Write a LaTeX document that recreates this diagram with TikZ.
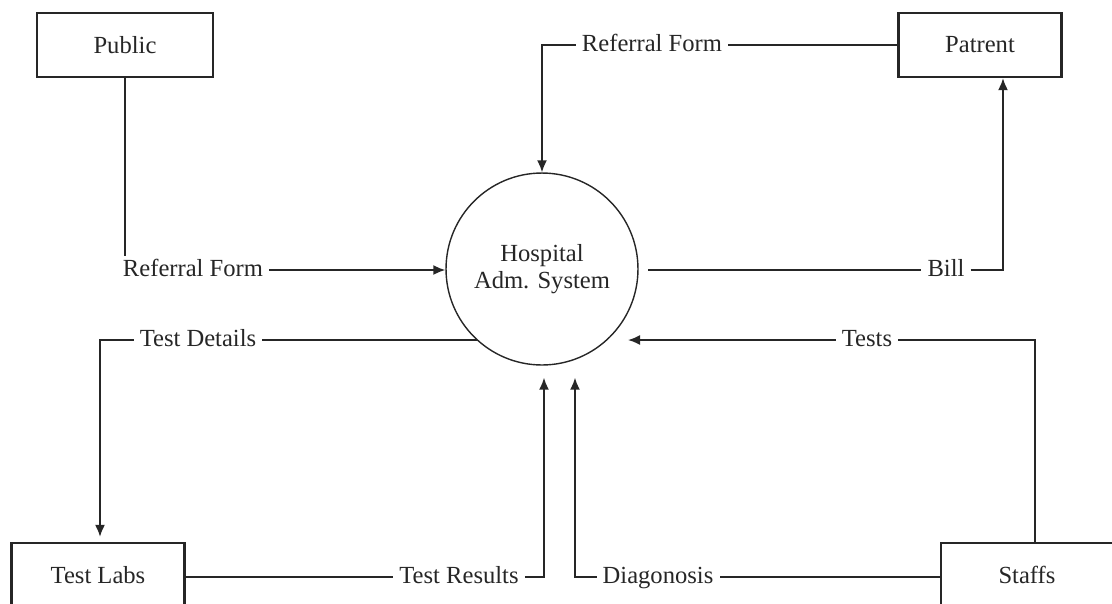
\documentclass[tikz,border=0pt]{standalone}
\usepackage{fontspec}
\setmainfont{Liberation Serif}
\usetikzlibrary{arrows.meta}

\begin{document}
\begin{tikzpicture}[x=0.02cm, y=-0.02cm, color=black!85, line width=1pt,
    font=\fontsize{14}{15.5}\selectfont,
    entity/.style = {draw, line width=1.3pt, minimum height=1.28cm},
    proc/.style = {draw, circle, line width=0.8pt, minimum size=3.84cm, align=center},
    lbl/.style = {inner sep=3pt, text height=1.7ex, text depth=0.2ex},
    >={Latex[length=2.4mm, width=2mm]}]
    \useasboundingbox (0,0) rectangle (1112,603);
    \clip (0,0) rectangle (1112,603);

    \node[entity, minimum width=3.52cm] (public) at (125,45) {Public};
    \node[entity, minimum width=3.26cm] (patrent) at (980,45) {Patrent};
    \node[proc] (hosp) at (542,269) {Hospital\\Adm. System};
    \node[entity, minimum width=3.46cm] (labs) at (98,575) {Test Labs};
    \node[entity, minimum width=3.44cm] (staffs) at (1027,575) {Staffs};

    \node[lbl] (rfl) at (193,270) {Referral Form};
    \node[lbl] (rft) at (652,45) {Referral Form};
    \node[lbl] (bill) at (946,270) {Bill};
    \node[lbl] (tdet) at (198,340) {Test Details};
    \node[lbl] (tests) at (867,340) {Tests};
    \node[lbl] (tres) at (459,577) {Test Results};
    \node[lbl] (diag) at (658,577) {Diagonosis};

    \coordinate (billout) at (648,270);
    \coordinate (testsin) at (628,340);

    \draw (public.south) -- (public.south |- rfl.north);
    \draw[->] (rfl.east) -- (rfl -| hosp.west);

    \draw (patrent.west) -- (rft.east);
    \draw[->] (rft.west) -| (hosp.north);

    \draw (billout) -- (bill.west);
    \draw[->] (bill.east) -| ([xshift=0.46cm]patrent.south);

    \draw (tdet -| hosp.228) -- (tdet.east);
    \draw[->] (tdet.west) -| ([xshift=0.04cm, yshift=0.1cm]labs.north);

    \draw (labs.east |- tres) -- (tres.west);
    \draw[->] (tres.east) -| ([xshift=0.04cm, yshift=-0.24cm]hosp.south);

    \draw (staffs.west |- diag) -- (diag.east);
    \draw[->] (diag.west) -| ([xshift=0.66cm, yshift=-0.24cm]hosp.south);

    \draw ([xshift=0.16cm]staffs.north) |- (tests.east);
    \draw[->] (tests.west) -- (testsin);

\end{tikzpicture}
\end{document}
